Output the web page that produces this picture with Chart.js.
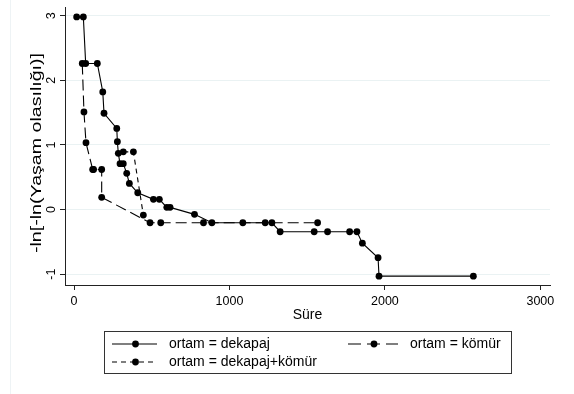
<!DOCTYPE html>
<html>
<head>
<meta charset="utf-8">
<script src="https://cdn.jsdelivr.net/npm/chart.js@4.4.1/dist/chart.umd.min.js"></script>
<style>
  html, body { margin: 0; padding: 0; background: #fff; }
  #wrap { position: relative; width: 574px; height: 394px; }
</style>
</head>
<body>
<div id="wrap"><canvas id="c" width="574" height="394"></canvas></div>
<script>
// süre (x) and -ln[-ln(S)] (y) for each ortam group
const dekapajSure = [17, 60, 75, 150, 185, 193, 275, 279, 285, 296, 317, 339, 356, 410, 511, 549, 597, 618, 775, 887, 1086, 1230, 1273, 1326, 1545, 1631, 1773, 1820, 1855, 1956, 1962, 2569];
const dekapajY = [2.98, 2.98, 2.26, 2.26, 1.82, 1.49, 1.255, 1.05, 0.87, 0.71, 0.71, 0.56, 0.405, 0.26, 0.158, 0.158, 0.034, 0.034, -0.074, -0.204, -0.204, -0.204, -0.204, -0.343, -0.343, -0.343, -0.343, -0.343, -0.52, -0.745, -1.03, -1.03];

const komurSure = [53, 64, 77, 120, 126, 178, 178, 489, 558, 833, 1567];
const komurY = [2.26, 1.51, 1.035, 0.62, 0.62, 0.62, 0.19, -0.204, -0.204, -0.204, -0.204];

const ikisiSure = [317, 382, 446];
const ikisiY = [0.893, 0.893, -0.085];

const xTicks = [0, 1000, 2000, 3000];
const yTicks = [-1, 0, 1, 2, 3];

const legendLabels = ["ortam = dekapaj", "ortam = kömür", "ortam = dekapaj+kömür"];
const xTitle = "Süre";
const yTitle = "-ln[-ln(Yaşam olasılığı)]";

const pts = (xs, ys) => xs.map((x, i) => ({ x: x, y: ys[i] }));
const FONT = '"Liberation Sans", Arial, sans-serif';

function series(xs, ys, dash) {
  return {
    data: pts(xs, ys),
    borderColor: '#000',
    borderWidth: 1.1,
    borderDash: dash,
    pointRadius: 3.4,
    pointHoverRadius: 3.4,
    pointBorderWidth: 0,
    pointBackgroundColor: '#000',
    tension: 0,
    fill: false
  };
}

function sample(ctx, x0, x1, y, dash) {
  ctx.save();
  ctx.strokeStyle = '#000';
  ctx.lineWidth = 1.1;
  ctx.setLineDash(dash);
  ctx.beginPath();
  ctx.moveTo(x0, y);
  ctx.lineTo(x1, y);
  ctx.stroke();
  ctx.setLineDash([]);
  ctx.fillStyle = '#000';
  ctx.beginPath();
  ctx.arc((x0 + x1) / 2 + 1, y, 3.4, 0, Math.PI * 2);
  ctx.fill();
  ctx.restore();
}

const decor = {
  id: 'decor',
  afterDraw(chart) {
    const ctx = chart.ctx;
    const xs = chart.scales.x, ys = chart.scales.y;
    ctx.save();

    // faint region edge
    ctx.strokeStyle = '#eef3f5';
    ctx.lineWidth = 1;
    ctx.beginPath();
    ctx.moveTo(10.5, 0);
    ctx.lineTo(10.5, 394);
    ctx.stroke();

    ctx.fillStyle = '#000';
    ctx.textAlign = 'center';
    ctx.textBaseline = 'middle';
    ctx.font = '12.5px ' + FONT;
    xTicks.forEach(v => ctx.fillText(String(v), xs.getPixelForValue(v), 302));
    yTicks.forEach(v => {
      ctx.save();
      ctx.translate(51.5, ys.getPixelForValue(v));
      ctx.rotate(-Math.PI / 2);
      ctx.fillText(String(v), 0, 0);
      ctx.restore();
    });

    ctx.font = '14px ' + FONT;
    ctx.fillText(xTitle, (chart.chartArea.left + chart.chartArea.right) / 2, 315);
    ctx.save();
    ctx.translate(37, 153);
    ctx.rotate(-Math.PI / 2);
    ctx.scale(1.4, 1);
    ctx.fillText(yTitle, 0, 0);
    ctx.restore();

    // legend box
    ctx.strokeStyle = '#333';
    ctx.lineWidth = 1;
    ctx.strokeRect(104.5, 331.5, 407, 42);
    sample(ctx, 112, 157, 344, []);
    sample(ctx, 348, 398, 344, [13, 6]);
    sample(ctx, 112, 157, 362, [5, 4]);
    ctx.textAlign = 'left';
    ctx.fillText(legendLabels[0], 169, 344);
    ctx.fillText(legendLabels[1], 410, 344);
    ctx.fillText(legendLabels[2], 169, 362);
    ctx.restore();
  }
};

new Chart(document.getElementById('c').getContext('2d'), {
  type: 'line',
  data: {
    datasets: [
      series(dekapajSure, dekapajY, []),
      series(komurSure, komurY, [11, 5]),
      series(ikisiSure, ikisiY, [5, 4])
    ]
  },
  options: {
    responsive: false,
    animation: false,
    events: [],
    layout: { padding: { left: 0, right: 24, top: 7, bottom: 0 } },
    plugins: { legend: { display: false }, tooltip: { enabled: false } },
    scales: {
      x: {
        type: 'linear',
        min: -58,
        max: 3062,
        afterBuildTicks: s => { s.ticks = xTicks.map(v => ({ value: v })); },
        afterFit: s => { s.height = 109; },
        ticks: { display: false },
        grid: { drawOnChartArea: false, drawTicks: true, tickLength: 5, tickColor: '#222' },
        border: { display: true, color: '#222', width: 1 }
      },
      y: {
        type: 'linear',
        min: -1.167,
        max: 3.134,
        afterBuildTicks: s => { s.ticks = yTicks.map(v => ({ value: v })); },
        afterFit: s => { s.width = 65; },
        ticks: { display: false },
        grid: { color: '#eaf2f3', drawTicks: true, tickLength: 5, tickColor: '#222' },
        border: { display: true, color: '#222', width: 1 }
      }
    }
  },
  plugins: [decor]
});
</script>
</body>
</html>
